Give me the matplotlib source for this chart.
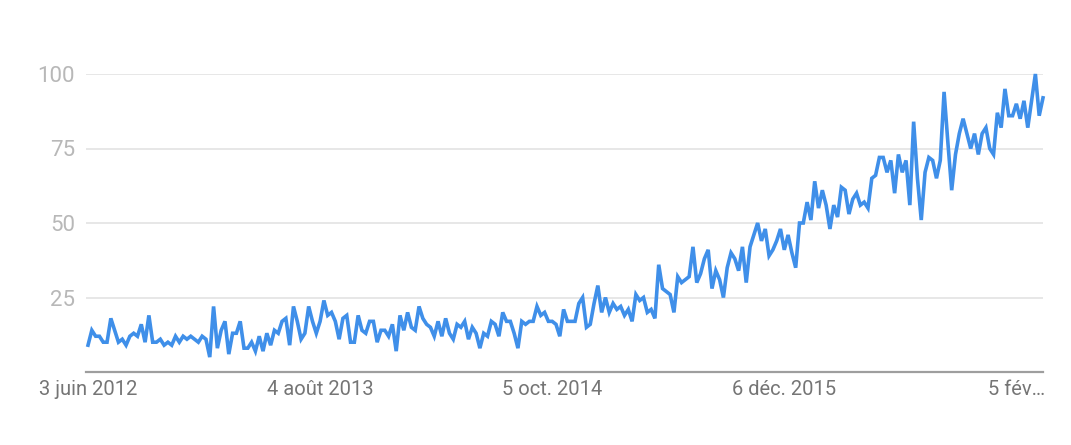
import numpy as np
import pandas as pd
import matplotlib
matplotlib.use("Agg")
import matplotlib.pyplot as plt

# weekly interest, Google Trends style (0-100)
start_date = "2012-06-03"
interest = [
    9, 14, 12, 12, 10, 10, 18, 14, 10, 11, 9, 12, 13, 12, 16, 10, 19, 10, 10, 11,
    9, 10, 9, 12, 10, 12, 11, 12, 11, 10, 12, 11, 5, 22, 8, 14, 17, 6, 13, 13,
    17, 8, 8,
    10, 7, 12, 7, 13, 9, 14, 13, 17, 18, 9, 22, 17, 11, 13, 22, 17, 13, 17, 24,
    19, 20, 17, 11, 18, 19, 10, 10, 19, 14, 13, 17, 17, 10, 14, 14, 12, 16, 7, 19,
    14, 20,
    15, 14, 22, 18, 16, 15, 12, 17, 12, 18, 13, 11, 16, 15, 17, 11, 15, 13, 8, 13,
    12, 17, 16, 12, 20, 17, 17, 13, 8, 17, 16, 17, 17, 22, 19, 20, 17, 17, 16, 12,
    21, 17, 17,
    17, 23, 25, 15, 16, 23, 29, 20, 25, 20, 23, 21, 22, 19, 21, 17, 26, 24, 25, 20,
    21, 18, 36, 28, 27, 26, 20, 32, 30, 31, 32, 42, 30, 33, 38, 41, 28, 34, 31, 25,
    35, 40,
    38, 34, 42, 30, 42, 46, 50, 44, 48, 39, 41, 44, 48, 41, 46, 40, 35, 50, 50, 57,
    51, 64, 55, 61, 56, 48, 56, 52, 62, 61, 53, 58, 60, 56, 57, 55, 65, 66, 72, 72,
    67, 71,
    60, 73, 67, 71, 56, 84, 65, 51, 67, 72, 71, 65, 71, 94, 77, 61, 73, 80, 85, 80,
    75, 80, 73, 80, 82, 75, 73, 87, 82, 95, 86, 86, 90, 85, 91, 82, 91, 100, 86, 92,
]
tick_dates = ["2012-06-03", "2013-08-04", "2014-10-05", "2015-12-06", "2017-02-05"]
tick_labels = ["3 juin 2012", "4 août 2013", "5 oct. 2014", "6 déc. 2015", "5 fév…"]
y_ticks = [25, 50, 75, 100]

weeks = pd.date_range(start_date, periods=len(interest), freq="W-SUN")

plt.rcParams["font.family"] = ["Roboto", "DejaVu Sans"]

fig = plt.figure(figsize=(10.71, 4.45), dpi=100)
ax = fig.add_axes([86 / 1071, 73 / 445, 957 / 1071, 298 / 445])

ax.plot(weeks, interest, color="#3f8fe9", lw=2.6, solid_joinstyle="miter",
        clip_on=False, zorder=3)

ax.set_ylim(0, 100)
ax.set_xlim(weeks[0] - pd.Timedelta(days=3.7), weeks[-1])

ax.set_yticks(y_ticks)
ax.set_yticklabels([str(v) for v in y_ticks])
ax.yaxis.grid(True, color="#e0e0e0", lw=1.1)
ax.set_axisbelow(True)

ax.set_xticks([pd.Timestamp(d) for d in tick_dates])
ax.set_xticklabels(tick_labels)

for s in ["top", "right", "left"]:
    ax.spines[s].set_visible(False)
ax.spines["bottom"].set_color("#9e9e9e")
ax.spines["bottom"].set_linewidth(1.6)

ax.tick_params(axis="y", length=0, pad=8, labelsize=16, labelcolor="#b8b8b8")
ax.tick_params(axis="x", length=0, pad=6, labelsize=14.5, labelcolor="#757575")

fig.savefig("out.png", dpi=100)
